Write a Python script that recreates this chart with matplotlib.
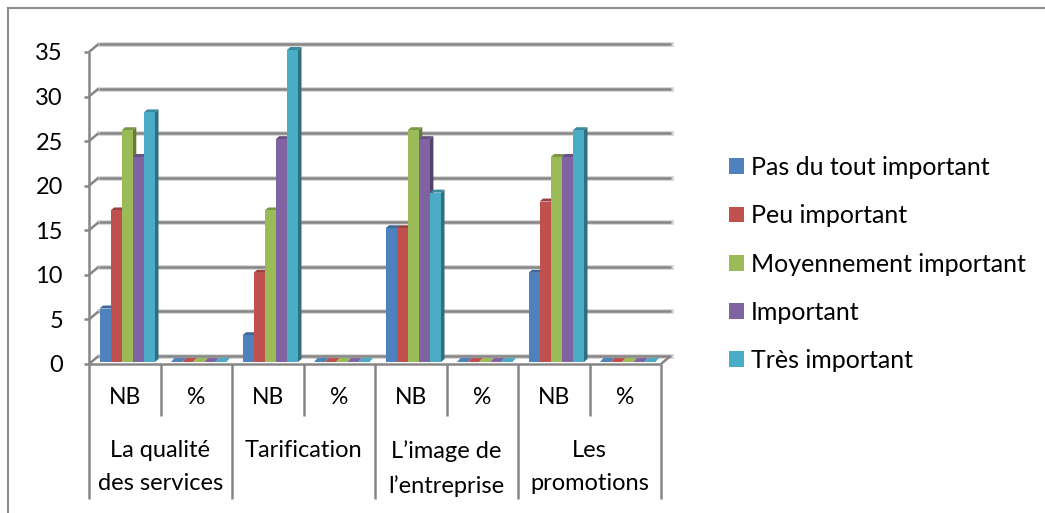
import numpy as np
import matplotlib
matplotlib.use("Agg")
import matplotlib.pyplot as plt
from matplotlib.patches import Polygon, Patch
from matplotlib.lines import Line2D

plt.rcParams['font.family'] = ['Lato', 'DejaVu Sans']

groups = ["La qualité\ndes services", "Tarification", "L’image de\nl’entreprise", "Les\npromotions"]
sub_labels = ["NB", "%"]
series_names = ["Pas du tout important", "Peu important", "Moyennement important", "Important", "Très important"]

pas_du_tout = [6, 0, 3, 0, 15, 0, 10, 0]
peu = [17, 0, 10, 0, 15, 0, 18, 0]
moyen = [26, 0, 17, 0, 26, 0, 23, 0]
important = [23, 0, 25, 0, 25, 0, 23, 0]
tres = [28, 0, 35, 0, 19, 0, 26, 0]
all_series = [pas_du_tout, peu, moyen, important, tres]

colors = ["#4F81BD", "#C0504D", "#9BBB59", "#8064A2", "#4BACC6"]
top_colors = ["#3F6797", "#9A403E", "#7C9647", "#664F82", "#3C8A9E"]
side_colors = ["#355780", "#7F3533", "#667B3A", "#54426B", "#2F6F80"]
grid_color = "#868686"
yticks = np.arange(0, 40, 5)

W, H = 1045, 513
fig = plt.figure(figsize=(W / 100, H / 100), dpi=100)
ax = fig.add_axes([89 / W, (H - 364) / H, 572 / W, 312 / H])
ax.set_xlim(0, 8)
ax.set_ylim(0, 35)
ax.axis("off")

# pixel -> data sizes
ux = 8 / 572
uy = 35 / 312
wall_dx, wall_dy = 9.5 * ux, 8 * uy
bar_dx, bar_dy = 3.5 * ux, 3 * uy
flat_dy = 4 * uy
base = 2 * uy
bar_w = 11.1 * ux
bar_start = 10.5 * ux

line = dict(color=grid_color, lw=1.8, clip_on=False, solid_capstyle="butt")

# back wall gridlines and side wall
for v in yticks:
    ax.plot([wall_dx, 8 + wall_dx], [v + wall_dy, v + wall_dy], color="#d4d4d4", lw=3.4, clip_on=False, zorder=1)
    ax.plot([wall_dx, 8 + wall_dx], [v + wall_dy, v + wall_dy], zorder=1.2, **line)
    ax.plot([0, wall_dx], [v, v + wall_dy], zorder=1.2, **line)
    ax.plot([-5.5 * ux, 0], [v, v], zorder=1.2, **line)
ax.plot([0, 0], [0, 35], zorder=1.2, **line)
ax.plot([0, 8], [0, 0], zorder=1.2, **line)
ax.plot([8, 8 + wall_dx], [0, wall_dy], zorder=1.2, **line)

# bars with fake depth
for s, vals in enumerate(all_series):
    for c, v in enumerate(vals):
        x0 = c + bar_start + s * bar_w
        top = v + base
        z = 2 + s * 0.1
        dy = bar_dy if v > 0 else flat_dy
        ax.add_patch(Polygon([(x0 + bar_w, base), (x0 + bar_w + bar_dx, base + dy),
                              (x0 + bar_w + bar_dx, top + dy), (x0 + bar_w, top)],
                             closed=True, facecolor=side_colors[s], edgecolor="none", zorder=z, clip_on=False))
        ax.add_patch(Polygon([(x0, top), (x0 + bar_dx, top + dy),
                              (x0 + bar_w + bar_dx, top + dy), (x0 + bar_w, top)],
                             closed=True, facecolor=top_colors[s] if v > 0 else colors[s],
                             edgecolor="none", zorder=z, clip_on=False))
        ax.bar(x0, v, width=bar_w, bottom=base, align="edge", color=colors[s], zorder=z + 0.05, clip_on=False)

# value labels
for v in yticks:
    ax.text(-26 * ux, v - 2 * uy, str(v), ha="right", va="center", fontsize=17, color="black", clip_on=False)

# two level category axis
for c in range(9):
    depth = 135 if c % 2 == 0 else 52
    ax.plot([c, c], [0, -depth * uy], zorder=1.2, **line)
for c in range(8):
    ax.text(c + 0.5, -34 * uy, sub_labels[c % 2], ha="center", va="center", fontsize=16.5, color="black")
for g, name in enumerate(groups):
    ax.text(2 * g + 1, -76 * uy, name, ha="center", va="top", fontsize=17, color="black", linespacing=1.72)

handles = [Patch(facecolor=colors[i], edgecolor="none") for i in range(5)]
leg = fig.legend(handles, series_names, loc="upper left", bbox_to_anchor=(729 / W, 1 - 156 / H),
                 frameon=False, fontsize=18, handlelength=0.6, handleheight=0.6, handletextpad=0.28,
                 labelspacing=1.01, borderpad=0, borderaxespad=0)
for t in leg.get_texts():
    t.set_color("black")

# outer chart frame, only top and left survive the crop
fig.add_artist(Line2D([8 / W, 8 / W], [0, 1 - 8 / H], color="#8c8c8c", lw=1.5))
fig.add_artist(Line2D([8 / W, 1], [1 - 8 / H, 1 - 8 / H], color="#8c8c8c", lw=1.5))

fig.savefig("out.png", dpi=100)
